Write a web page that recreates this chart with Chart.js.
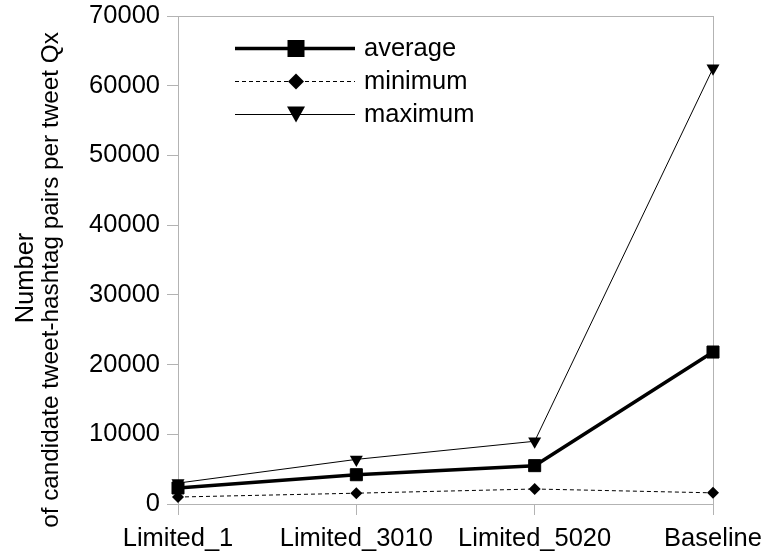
<!DOCTYPE html>
<html>
<head>
<meta charset="utf-8">
<script src="https://cdn.jsdelivr.net/npm/chart.js@4.4.1/dist/chart.umd.min.js"></script>
<style>
  html, body { margin: 0; padding: 0; background: #ffffff; }
  #wrap { width: 765px; height: 556px; position: relative; }
</style>
</head>
<body>
<div id="wrap"><canvas id="c" width="765" height="556"></canvas></div>
<script>
const categories = ['Limited_1', 'Limited_3010', 'Limited_5020', 'Baseline'];
const averageValues = [2300, 4200, 5500, 21800];
const minimumValues = [1000, 1550, 2150, 1600];
const maximumValues = [3000, 6400, 9000, 62500];
const seriesNames = ['average', 'minimum', 'maximum'];
const yTitleLines = ['Number', 'of candidate tweet-hashtag pairs per tweet Qx'];
const yMin = 0, yMax = 70000, yStep = 10000;

const FONT = 'Liberation Sans, Arial, sans-serif';
const FS = 25.5;
const GRAY = '#b3b3b3';

const frameAndLegend = {
  id: 'frameAndLegend',
  beforeDatasetsDraw(chart) {
    const { ctx, chartArea: a } = chart;
    ctx.save();
    ctx.strokeStyle = GRAY;
    ctx.lineWidth = 1;
    ctx.strokeRect(Math.round(a.left) + 0.5, Math.round(a.top) + 0.5,
                   Math.round(a.right - a.left), Math.round(a.bottom - a.top));
    ctx.restore();
  },
  afterDraw(chart) {
    const { ctx } = chart;
    ctx.save();
    // y axis title (two lines)
    ctx.fillStyle = '#000';
    ctx.textAlign = 'center';
    ctx.textBaseline = 'alphabetic';
    const baseX = [33, 58];
    const centerY = [278, 280];
    const sizes = [25.5, 24.3];
    yTitleLines.forEach((t, i) => {
      ctx.save();
      ctx.font = sizes[i] + 'px ' + FONT;
      ctx.translate(baseX[i], centerY[i]);
      ctx.rotate(-Math.PI / 2);
      ctx.fillText(t, 0, 0);
      ctx.restore();
    });
    // legend
    const rows = [48, 81, 114];
    const x0 = 235, x1 = 355, mx = 296, tx = 364;
    chart.data.datasets.forEach((ds, i) => {
      const y = rows[i];
      ctx.save();
      ctx.strokeStyle = '#000';
      ctx.lineWidth = ds.borderWidth;
      ctx.setLineDash(ds.borderDash || []);
      ctx.beginPath();
      ctx.moveTo(x0, y + 0.5);
      ctx.lineTo(x1, y + 0.5);
      ctx.stroke();
      ctx.setLineDash([]);
      ctx.fillStyle = '#000';
      ctx.beginPath();
      if (i === 0) {
        ctx.rect(mx - 8.5, y - 8, 17, 17);
      } else if (i === 1) {
        ctx.moveTo(mx, y - 7.5);
        ctx.lineTo(mx + 8, y + 0.5);
        ctx.lineTo(mx, y + 8.5);
        ctx.lineTo(mx - 8, y + 0.5);
        ctx.closePath();
      } else {
        ctx.moveTo(mx - 9, y - 7.5);
        ctx.lineTo(mx + 9, y - 7.5);
        ctx.lineTo(mx, y + 8.5);
        ctx.closePath();
      }
      ctx.fill();
      ctx.fillStyle = '#000';
      ctx.font = FS + 'px ' + FONT;
      ctx.textAlign = 'left';
      ctx.textBaseline = 'middle';
      ctx.fillText(ds.label, tx, y + 1);
      ctx.restore();
    });
    ctx.restore();
  }
};

new Chart(document.getElementById('c'), {
  type: 'line',
  data: {
    labels: categories,
    datasets: [
      {
        label: seriesNames[0],
        data: averageValues,
        borderColor: '#000',
        backgroundColor: '#000',
        borderWidth: 3.5,
        pointStyle: 'rect',
        pointRadius: 8.5,
        pointHoverRadius: 8.5,
        pointBorderWidth: 1,
        pointBorderColor: '#000',
        pointBackgroundColor: '#000',
        tension: 0,
        clip: false
      },
      {
        label: seriesNames[1],
        data: minimumValues,
        borderColor: '#000',
        backgroundColor: '#000',
        borderWidth: 1,
        borderDash: [4, 3],
        pointStyle: 'rectRot',
        pointRadius: 6,
        pointHoverRadius: 6,
        pointBorderWidth: 0,
        pointBackgroundColor: '#000',
        tension: 0,
        clip: false
      },
      {
        label: seriesNames[2],
        data: maximumValues,
        borderColor: '#000',
        backgroundColor: '#000',
        borderWidth: 1,
        pointStyle: 'triangle',
        pointRotation: 180,
        pointRadius: 7.5,
        pointHoverRadius: 7.5,
        pointBorderWidth: 0,
        pointBackgroundColor: '#000',
        tension: 0,
        clip: false
      }
    ]
  },
  options: {
    responsive: false,
    animation: false,
    events: [],
    layout: { padding: { top: 16, right: 52, left: 0, bottom: 0 } },
    plugins: {
      legend: { display: false },
      tooltip: { enabled: false },
      title: { display: false }
    },
    scales: {
      x: {
        type: 'category',
        offset: false,
        grid: { display: true, drawOnChartArea: false, drawTicks: true, tickLength: 11, color: GRAY, lineWidth: 1 },
        border: { display: true, color: GRAY, width: 1 },
        ticks: { color: '#000', font: { family: FONT, size: FS }, padding: 9, maxRotation: 0, autoSkip: false },
        afterFit(scale) { scale.height = 52; scale.paddingLeft = 0; scale.paddingRight = 0; }
      },
      y: {
        min: yMin,
        max: yMax,
        grid: { display: true, drawOnChartArea: false, drawTicks: true, tickLength: 11, color: GRAY, lineWidth: 1 },
        border: { display: true, color: GRAY, width: 1 },
        ticks: {
          stepSize: yStep,
          color: '#000',
          font: { family: FONT, size: FS },
          padding: 7,
          callback: (v) => String(v)
        },
        afterFit(scale) { scale.width = 178; scale.paddingTop = 0; scale.paddingBottom = 0; }
      }
    }
  },
  plugins: [frameAndLegend]
});
</script>
</body>
</html>
